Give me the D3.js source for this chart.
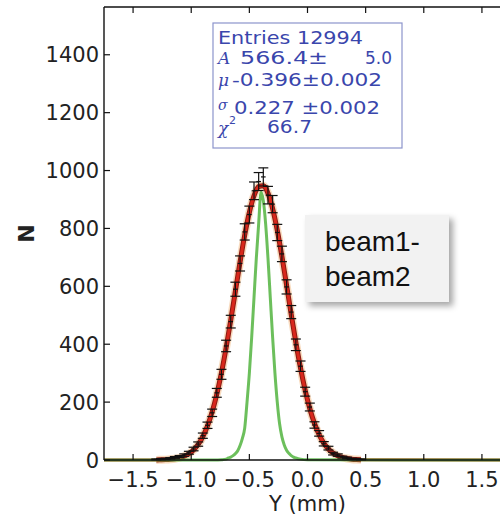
<!DOCTYPE html>
<html>
<head>
<meta charset="utf-8">
<script src="https://cdn.jsdelivr.net/npm/d3@7"></script>
<style>
  html, body { margin: 0; background: #fff; overflow: hidden; }
  svg { display: block; }
</style>
</head>
<body>
<div id="chart"></div>
<script>
// histogram bins (centre, mm) and entries per bin
const binCenters = [-1.30, -1.26, -1.22, -1.18, -1.14, -1.10, -1.06, -1.02, -0.98, -0.94,
  -0.90, -0.86, -0.82, -0.78, -0.74, -0.70, -0.66, -0.62, -0.58, -0.54,
  -0.50, -0.46, -0.42, -0.38, -0.34, -0.30, -0.26, -0.22, -0.18, -0.14,
  -0.10, -0.06, -0.02, 0.02, 0.06, 0.10, 0.14, 0.18, 0.22, 0.26,
  0.30, 0.34, 0.38, 0.42, 0.46];
const binCounts = [2, 3, 4, 6, 9, 12, 17, 25, 38, 55,
  84, 120, 163, 232, 296, 394, 478, 590, 679, 788,
  848, 930, 962, 978, 915, 884, 786, 712, 598, 511,
  398, 324, 236, 183, 121, 92, 56, 41, 22, 17,
  10, 7, 4, 3, 2];

// red gaussian fit, sampled
const fitX = [-1.75, -1.30, -1.26, -1.22, -1.18, -1.14, -1.10, -1.06, -1.02, -0.98, -0.94,
  -0.90, -0.86, -0.82, -0.78, -0.74, -0.70, -0.66, -0.62, -0.58, -0.54,
  -0.50, -0.46, -0.42, -0.38, -0.34, -0.30, -0.26, -0.22, -0.18, -0.14,
  -0.10, -0.06, -0.02, 0.02, 0.06, 0.10, 0.14, 0.18, 0.22, 0.26,
  0.30, 0.34, 0.38, 0.42, 0.46, 1.75];
const fitY = [0, 0.3, 0.7, 1.3, 2.4, 4.4, 7.8, 13.2, 21.7, 34.7, 53.8,
  80.8, 117.6, 166.1, 227.2, 301.4, 387.5, 483.1, 583.9, 684.0, 776.8,
  855.4, 913.0, 944.7, 947.6, 921.5, 868.8, 793.9, 703.4, 604.1, 503.0,
  405.9, 317.7, 240.9, 177.2, 126.4, 87.3, 58.5, 38.0, 23.9, 14.6,
  8.6, 5.0, 2.8, 1.5, 0.8, 0];

// green curve (beam1-beam2 difference)
const greenX = [-1.75, -0.80, -0.74, -0.70, -0.68, -0.66, -0.64, -0.62, -0.60, -0.58, -0.56, -0.54,
  -0.52, -0.50, -0.48, -0.46, -0.44, -0.42, -0.40, -0.38, -0.36, -0.34, -0.32,
  -0.30, -0.28, -0.26, -0.24, -0.22, -0.20, -0.18, -0.16, -0.14, -0.12,
  -0.10, -0.06, 0.00, 1.75];
const greenY = [0, 0, 1, 3, 7, 10, 15, 22, 32, 50, 75, 110,
  200, 300, 424, 561, 698, 816, 925, 896, 816, 698, 561,
  424, 300, 200, 125, 80, 52, 34, 23, 15, 10,
  7, 3, 1, 0];

const xTicks = [-1.5, -1.0, -0.5, 0.0, 0.5, 1.0, 1.5];
const yTicks = [0, 200, 400, 600, 800, 1000, 1200, 1400];

const W = 500, H = 517;
const plot = { left: 104, right: 511, top: 7, bottom: 460 };

const svg = d3.select("#chart").append("svg")
  .attr("width", W)
  .attr("height", H)
  .style("overflow", "hidden");

const defs = svg.append("defs");
const shadow = defs.append("filter").attr("id", "shadow")
  .attr("x", "-10%").attr("y", "-10%").attr("width", "130%").attr("height", "140%");
shadow.append("feDropShadow")
  .attr("dx", 4).attr("dy", 4).attr("stdDeviation", 3)
  .attr("flood-color", "#000").attr("flood-opacity", 0.35);

const x = d3.scaleLinear().domain([-1.75, 1.75]).range([plot.left, plot.right]);
const y = d3.scaleLinear().domain([0, 1565]).range([plot.bottom, plot.top]);

const line = d3.line()
  .x(d => x(d[0]))
  .y(d => y(d[1]))
  .curve(d3.curveMonotoneX);

const fitPts = fitX.map((v, i) => [v, fitY[i]]);
const fitCore = fitPts.filter(d => d[0] > -1.5 && d[0] < 1);
const greenPts = greenX.map((v, i) => [v, greenY[i]]);

// fit: soft halo, dark edge, red core
svg.append("path")
  .attr("d", line(fitCore))
  .attr("fill", "none")
  .attr("stroke", "#f0b070")
  .attr("stroke-opacity", 0.45)
  .attr("stroke-width", 8);
svg.append("path")
  .attr("d", line(fitCore))
  .attr("fill", "none")
  .attr("stroke", "#8a1a12")
  .attr("stroke-width", 5);
svg.append("path")
  .attr("d", line(fitPts))
  .attr("fill", "none")
  .attr("stroke", "#d8281c")
  .attr("stroke-width", 3);

svg.append("path")
  .attr("d", line(greenPts))
  .attr("fill", "none")
  .attr("stroke", "#5cb84a")
  .attr("stroke-opacity", 0.9)
  .attr("stroke-width", 3);

// data points with poisson errors
const binW = 0.04;
const data = binCenters.map((c, i) => ({ c: c, n: binCounts[i], e: Math.sqrt(binCounts[i]) }));
const pts = svg.append("g").attr("stroke", "#111").attr("stroke-width", 1.2);
data.forEach(d => {
  const cx = x(d.c);
  pts.append("line")
    .attr("x1", cx).attr("x2", cx)
    .attr("y1", y(d.n - d.e)).attr("y2", y(d.n + d.e));
  pts.append("line")
    .attr("x1", x(d.c - binW / 2)).attr("x2", x(d.c + binW / 2))
    .attr("y1", y(d.n)).attr("y2", y(d.n));
  [d.n - d.e, d.n + d.e].forEach(v => {
    pts.append("line")
      .attr("x1", cx - 5).attr("x2", cx + 5)
      .attr("y1", y(v)).attr("y2", y(v));
  });
});

// frame: left, top, bottom (right spine lies past the window)
const frame = svg.append("g").attr("stroke", "#111").attr("stroke-width", 1.4);
frame.append("line").attr("x1", plot.left).attr("x2", plot.left).attr("y1", plot.top).attr("y2", plot.bottom);
frame.append("line").attr("x1", plot.left).attr("x2", 540).attr("y1", plot.top).attr("y2", plot.top);
frame.append("line").attr("x1", plot.left).attr("x2", 540).attr("y1", plot.bottom).attr("y2", plot.bottom);

const tickLen = 6;
const font = "DejaVu Sans, sans-serif";

// bottom + top ticks
xTicks.forEach(t => {
  frame.append("line")
    .attr("x1", x(t)).attr("x2", x(t))
    .attr("y1", plot.bottom).attr("y2", plot.bottom - tickLen)
    .attr("stroke-width", 1.2);
  frame.append("line")
    .attr("x1", x(t)).attr("x2", x(t))
    .attr("y1", plot.top).attr("y2", plot.top + tickLen)
    .attr("stroke-width", 1.2);
});
svg.append("g").selectAll("text")
  .data(xTicks)
  .join("text")
  .attr("x", d => x(d))
  .attr("y", 487)
  .attr("text-anchor", "middle")
  .attr("font-family", font)
  .attr("font-size", 21)
  .attr("fill", "#222")
  .text(d3.format(".1f"));

// left ticks
yTicks.forEach(t => {
  frame.append("line")
    .attr("x1", plot.left).attr("x2", plot.left + tickLen)
    .attr("y1", y(t)).attr("y2", y(t))
    .attr("stroke-width", 1.2);
});
svg.append("g").selectAll("text")
  .data(yTicks)
  .join("text")
  .attr("x", 99)
  .attr("y", d => y(d))
  .attr("dy", "0.36em")
  .attr("text-anchor", "end")
  .attr("font-family", font)
  .attr("font-size", 21)
  .attr("fill", "#222")
  .text(d => d);

// axis titles
svg.append("text")
  .attr("x", x(0))
  .attr("y", 511)
  .attr("text-anchor", "middle")
  .attr("font-family", font)
  .attr("font-size", 21)
  .attr("fill", "#222")
  .text("Y (mm)");
svg.append("text")
  .attr("transform", `translate(34,${(plot.top + plot.bottom) / 2}) rotate(-90)`)
  .attr("text-anchor", "middle")
  .attr("font-family", font)
  .attr("font-size", 22)
  .attr("font-weight", "bold")
  .attr("fill", "#222")
  .text("N");

// stats box
const blue = "#3a46ac";
svg.append("rect")
  .attr("x", 213).attr("y", 23)
  .attr("width", 189).attr("height", 125)
  .attr("fill", "#fff")
  .attr("stroke", "#8c94cc")
  .attr("stroke-width", 1.2);
const stats = svg.append("g")
  .attr("font-family", font)
  .attr("font-size", 17)
  .attr("fill", blue);
const sym = (t, px, py, size) => stats.append("text")
  .attr("x", px).attr("y", py)
  .attr("font-style", "italic")
  .attr("font-family", "DejaVu Serif, serif")
  .attr("font-size", size)
  .text(t);
const val = (t, px, py, len) => stats.append("text")
  .attr("x", px).attr("y", py)
  .attr("textLength", len)
  .attr("lengthAdjust", "spacingAndGlyphs")
  .text(t);
val("Entries 12994", 218, 44, 145);
sym("A", 218, 64, 17);
val("566.4\u00b1", 240, 64, 88);
val("5.0", 365, 64, 27);
sym("\u03bc", 218, 86, 17);
val("-0.396\u00b10.002", 232, 86, 150);
sym("\u03c3", 218, 110, 14);
val("0.227 \u00b10.002", 234, 114, 146);
sym("\u03c7", 218, 134, 17);
stats.append("text").attr("x", 229).attr("y", 124).attr("font-size", 11).text("2");
val("66.7", 267, 133, 45);

// annotation
svg.append("rect")
  .attr("x", 305).attr("y", 215)
  .attr("width", 144).attr("height", 87)
  .attr("fill", "#f2f2f2")
  .attr("filter", "url(#shadow)");
const note = svg.append("g")
  .attr("font-family", "Liberation Sans, Arial, sans-serif")
  .attr("font-size", 28)
  .attr("fill", "#111");
note.append("text").attr("x", 325).attr("y", 251).text("beam1-");
note.append("text").attr("x", 325).attr("y", 286).text("beam2");
</script>
</body>
</html>
